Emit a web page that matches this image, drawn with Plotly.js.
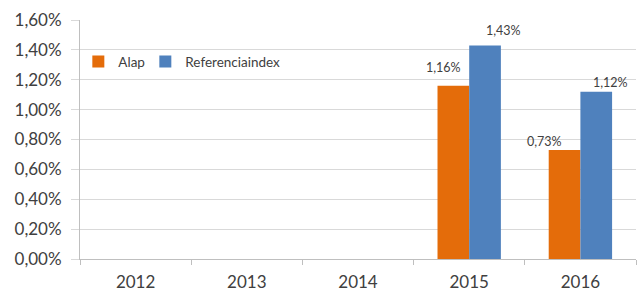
<!DOCTYPE html>
<html><head><meta charset="utf-8">
<script src="https://cdn.plot.ly/plotly-3.0.1.min.js"></script>
<style>html,body{margin:0;padding:0;background:#fff}#chart{width:637px;height:293px}</style>
</head><body><div id="chart"></div>
<script>
const years = ['2012','2013','2014','2015','2016'];
const alap = [null, null, null, 1.16, 0.73];
const referencia = [null, null, null, 1.43, 1.12];
const seriesNames = ['Alap', 'Referenciaindex'];
const yTicks = [0, 0.2, 0.4, 0.6, 0.8, 1.0, 1.2, 1.4, 1.6];
const fmt = v => v.toFixed(2).replace('.', ',') + '%';
const yTickText = yTicks.map(fmt);

// label offsets in px (relative to category centre / bar top) — styling only
const labelShift = {
  Alap: {2015: [-26, 18], 2016: [-36, 8]},
  Referenciaindex: {2015: [34, 15], 2016: [30, 9]}
};

const annotations = [];
[[seriesNames[0], alap], [seriesNames[1], referencia]].forEach(([name, vals]) => {
  vals.forEach((v, i) => {
    if (v === null) return;
    const s = labelShift[name][years[i]] || [0, 12];
    annotations.push({x: i, y: v, xref: 'x', yref: 'y', text: fmt(v), showarrow: false,
      xanchor: 'center', yanchor: 'middle', xshift: s[0], yshift: s[1],
      font: {family: 'Lato, sans-serif', size: 12.5, color: '#404040'}});
  });
});

const data = [
  {type: 'bar', name: seriesNames[0], x: years, y: alap, marker: {color: '#E46C0A'}, legendwidth: 22},
  {type: 'bar', name: seriesNames[1], x: years, y: referencia, marker: {color: '#4F81BD'}}
];
const layout = {
  width: 637, height: 293,
  margin: {l: 80, r: 1, t: 20, b: 34, pad: 0},
  paper_bgcolor: '#fff', plot_bgcolor: '#fff',
  barmode: 'group', bargap: 0.43, bargroupgap: 0,
  font: {family: 'Lato, sans-serif', color: '#404040'},
  showlegend: true,
  legend: {orientation: 'h', x: -0.003, y: 0.825, xanchor: 'left', yanchor: 'middle',
    font: {size: 13.5, color: '#404040'}, bgcolor: 'rgba(0,0,0,0)'},
  xaxis: {type: 'category', range: [-0.5, 4.5], autorange: false, showgrid: false,
    showline: true, linecolor: '#BFBFBF', linewidth: 1,
    ticks: 'outside', tickson: 'boundaries', ticklen: 5, tickcolor: '#BFBFBF',
    tickfont: {size: 17, color: '#404040'}, ticklabelstandoff: 8},
  yaxis: {range: [0, 1.6], autorange: false, tickvals: yTicks, ticktext: yTickText,
    showgrid: true, gridcolor: '#D9D9D9', gridwidth: 1, showline: true, linecolor: '#BFBFBF',
    ticks: 'outside', ticklen: 8, tickcolor: '#D9D9D9', zeroline: false,
    tickfont: {size: 17, color: '#404040'}, ticklabelstandoff: 6},
  annotations: annotations
};
Plotly.newPlot('chart', data, layout, {displayModeBar: false, staticPlot: true});
</script></body></html>
